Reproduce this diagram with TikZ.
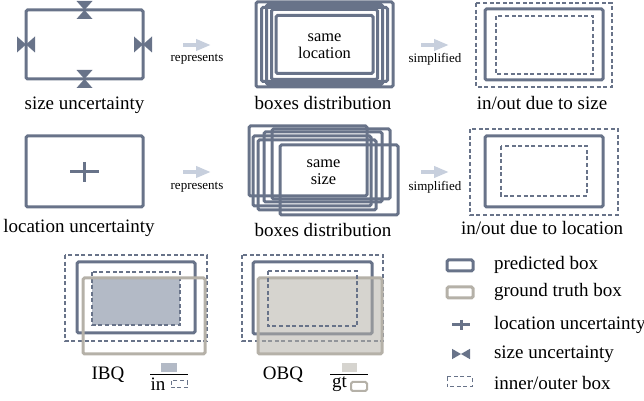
\documentclass[tikz,border=0pt]{standalone}
\usepackage{fontspec}
\setmainfont{LiberationSerif}[Extension=.ttf, UprightFont=*-Regular, BoldFont=*-Bold, ItalicFont=*-Italic]
\usetikzlibrary{arrows.meta}
\definecolor{predc}{HTML}{687389}
\definecolor{gtc}{HTML}{B5B1A8}
\definecolor{hintc}{HTML}{C7CFDD}
\definecolor{ibqc}{HTML}{B3BAC6}
\begin{document}
\begin{tikzpicture}[
    x=0.5pt, y=-0.5pt,
    font=\rmfamily,
    predbox/.style={draw=predc, line width=1.5pt, rounded corners=0.8pt},
    gtbox/.style={draw=gtc, line width=1.5pt, rounded corners=0.8pt},
    iobox/.style={draw=predc, line width=0.6pt, dash pattern=on 2pt off 1.3pt},
    hintarrow/.style={draw=hintc, line width=2pt, -{Triangle[length=7.5pt, width=5.5pt]}},
    hint/.style={font=\rmfamily\fontsize{6.5}{7}\selectfont},
    caption/.style={font=\rmfamily\fontsize{9.5}{11}\selectfont},
    intext/.style={font=\rmfamily\fontsize{8.2}{8.3}\selectfont, align=center},
    plusmark/.style={draw=predc, line width=1.5pt},
    sizemark/.pic={
        \fill[predc] (-9,-8) -- (-9,8) -- (0,0) -- cycle;
        \fill[predc] (9,-8) -- (9,8) -- (0,0) -- cycle;
    }
]
    \useasboundingbox (0,0) rectangle (644,401);

    % row 1: size uncertainty
    \draw [predbox] (26,10) rectangle (143,79);
    \pic [rotate=90] at (84.5,10) {sizemark};
    \pic [rotate=90] at (84.5,79) {sizemark};
    \pic at (26,44.5) {sizemark};
    \pic at (143,44.5) {sizemark};
    \node [caption] (sizecap) at (84.5,105) {size uncertainty};

    \coordinate (rep1a) at (183,45);
    \coordinate (rep1b) at (211,45);
    \draw [hintarrow] (rep1a) -- (rep1b);
    \node [hint] (rep1) at (197,59) {represents};

    \foreach \w/\h in {68.5/42.5, 63/37, 58/40, 53/35, 48.5/29}
        \draw [predbox] ({324.5-\w},{44.5-\h}) rectangle ({324.5+\w},{44.5+\h});
    \node [intext] (sameloc) at (324.5,46) {same\\location};
    \node [caption] (dist1) at (323,103) {boxes distribution};

    \coordinate (sim1a) at (421,45);
    \coordinate (sim1b) at (449,45);
    \draw [hintarrow] (sim1a) -- (sim1b);
    \node [hint] (sim1) at (435,59) {simplified};

    \draw [iobox] (476,3) rectangle (612,87);
    \draw [predbox] (485,9) rectangle (603,80);
    \draw [iobox] (496,16) rectangle (593,74);
    \node [caption] (iosize) at (542,103) {in/out due to size};

    % row 2: location uncertainty
    \draw [predbox] (26,136) rectangle (143,207);
    \draw [plusmark] (70,172) -- (99,172);
    \draw [plusmark] (84.5,162) -- (84.5,182);
    \node [caption] (loccap) at (79,228) {location uncertainty};

    \coordinate (rep2a) at (183,172);
    \coordinate (rep2b) at (211,172);
    \draw [hintarrow] (rep2a) -- (rep2b);
    \node [hint] (rep2) at (197,187) {represents};

    \foreach \l/\t in {249/126, 272/129, 264/132, 253/136, 258/140, 280/145}
        \draw [predbox] (\l,\t) rectangle ++(118,70);
    \node [intext] (samesize) at (323.5,172) {same\\size};
    \node [caption] (dist2) at (323,230) {boxes distribution};

    \coordinate (sim2a) at (421,172);
    \coordinate (sim2b) at (449,172);
    \draw [hintarrow] (sim2a) -- (sim2b);
    \node [hint] (sim2) at (435,187) {simplified};

    \draw [iobox] (470,129) rectangle (618,215);
    \draw [predbox] (485,136) rectangle (603,207);
    \draw [iobox] (501,146) rectangle (587,196);
    \node [caption] (ioloc) at (542,228) {in/out due to location};

    % row 3: IBQ and OBQ
    \fill [ibqc] (92,278) rectangle (180,325);
    \draw [iobox] (65,255) rectangle (207,341);
    \draw [predbox] (77,262) rectangle (195,333);
    \draw [iobox] (92,272) rectangle (180,325);
    \draw [gtbox] (83,278) rectangle (205,354);
    \node [caption] (ibq) at (108,375) {IBQ};
    \fill [ibqc] (161,363) rectangle (177,372);
    \draw [line width=0.5pt] (150,375) -- (188,375);
    \node [caption] (ibqin) at (158,384) {in};
    \draw [iobox, line width=0.5pt] (171,381) rectangle (187,388);

    \draw [iobox] (242,255) rectangle (383,341);
    \draw [predbox] (253,262) rectangle (372,334);
    \draw [gtbox, fill=gtc, fill opacity=0.55] (258,278) rectangle (382,354);
    \draw [iobox] (268,271) rectangle (357,326);
    \node [caption] (obq) at (283,375) {OBQ};
    \fill [gtc, opacity=0.55] (342,363) rectangle (357,372);
    \draw [line width=0.5pt] (330,375) -- (368,375);
    \node [caption] (obqgt) at (339.5,384) {gt};
    \draw [gtbox, line width=1pt] (351,382) rectangle (367,391);

    % legend
    \draw [predbox] (447,260) rectangle (473,271);
    \node [caption, anchor=west] (lgpred) at (487,265) {predicted box};
    \draw [gtbox] (447,287) rectangle (473,298);
    \node [caption, anchor=west] (lggt) at (487,292) {ground truth box};
    \draw [plusmark] (452,325) -- (470,325);
    \draw [plusmark] (461,320) -- (461,330);
    \node [caption, anchor=west] (lgloc) at (487,325) {location uncertainty};
    \pic [yscale=0.65] at (461,354) {sizemark};
    \node [caption, anchor=west] (lgsize) at (487,354) {size uncertainty};
    \draw [iobox, line width=0.5pt] (447,377) rectangle (472,387);
    \node [caption, anchor=west] (lgio) at (487,383) {inner/outer box};
\end{tikzpicture}
\end{document}
